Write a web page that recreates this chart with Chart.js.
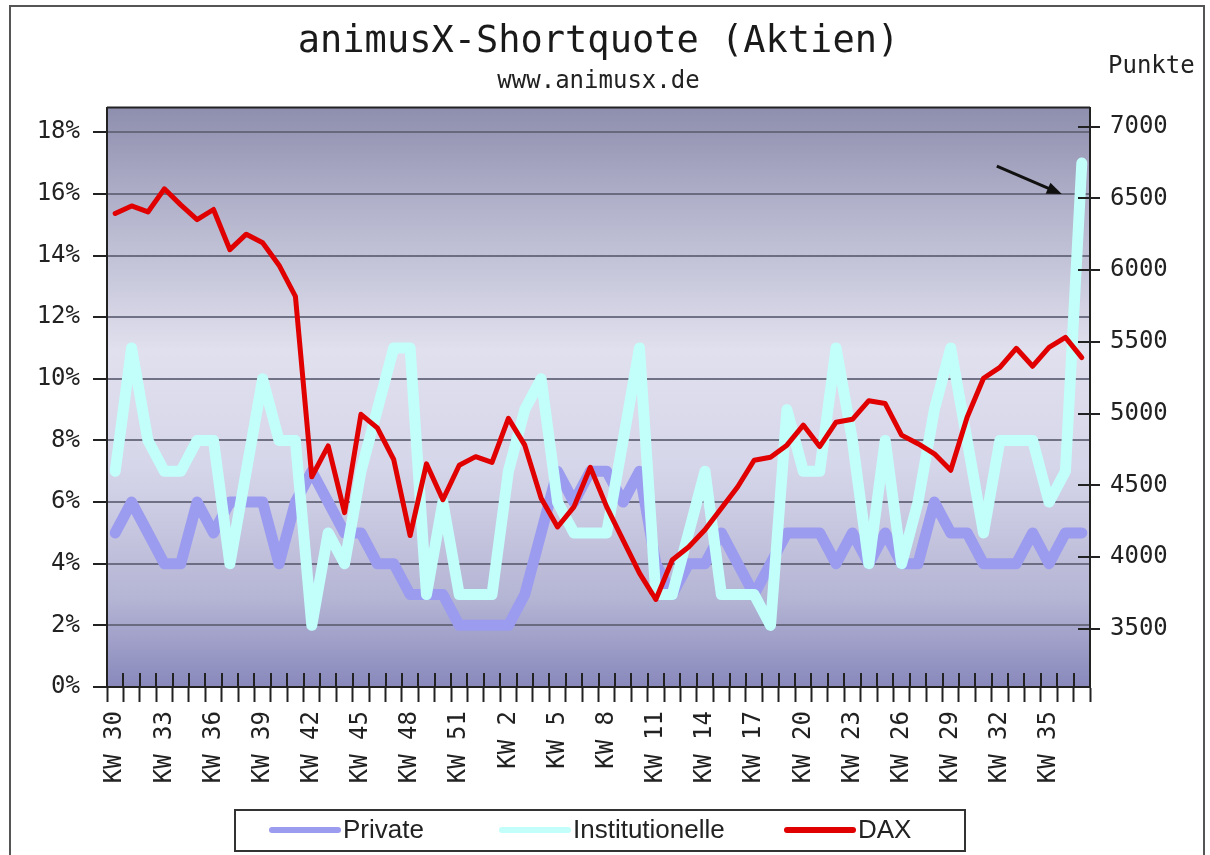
<!DOCTYPE html>
<html>
<head>
<meta charset="utf-8">
<script src="https://cdn.jsdelivr.net/npm/chart.js@4.4.1/dist/chart.umd.min.js"></script>
<style>
  html, body { margin: 0; padding: 0; background: #fff; }
  canvas { display: block; }
</style>
</head>
<body>
<canvas id="chart" width="1210" height="855"></canvas>
<script>
const weeks = [
  'KW 30','KW 31','KW 32','KW 33','KW 34','KW 35','KW 36','KW 37','KW 38','KW 39',
  'KW 40','KW 41','KW 42','KW 43','KW 44','KW 45','KW 46','KW 47','KW 48','KW 49',
  'KW 50','KW 51','KW 52','KW 1','KW 2','KW 3','KW 4','KW 5','KW 6','KW 7',
  'KW 8','KW 9','KW 10','KW 11','KW 12','KW 13','KW 14','KW 15','KW 16','KW 17',
  'KW 18','KW 19','KW 20','KW 21','KW 22','KW 23','KW 24','KW 25','KW 26','KW 27',
  'KW 28','KW 29','KW 30','KW 31','KW 32','KW 33','KW 34','KW 35','KW 36','KW 37'
];
const privat = [
  5, 6, 5, 4, 4, 6, 5, 6, 6, 6,
  4, 6, 7, 6, 5, 5, 4, 4, 3, 3,
  3, 2, 2, 2, 2, 3, 5, 7, 6, 7,
  7, 6, 7, 4, 3, 4, 4, 5, 4, 3,
  4, 5, 5, 5, 4, 5, 4, 5, 4, 4,
  6, 5, 5, 4, 4, 4, 5, 4, 5, 5
];
const institutionelle = [
  7, 11, 8, 7, 7, 8, 8, 4, 7, 10,
  8, 8, 2, 5, 4, 7, 9, 11, 11, 3,
  6, 3, 3, 3, 7, 9, 10, 6, 5, 5,
  5, 8, 11, 3, 3, 5, 7, 3, 3, 3,
  2, 9, 7, 7, 11, 8, 4, 8, 4, 6,
  9, 11, 8, 5, 8, 8, 8, 6, 7, 17
];
const dax = [
  6394, 6447, 6405, 6566, 6454, 6351, 6422, 6142, 6250, 6190,
  6034, 5817, 4560, 4775, 4310, 4995, 4900, 4680, 4150, 4650,
  4400, 4640, 4700, 4660, 4967, 4780, 4410, 4210, 4350, 4626,
  4350, 4118, 3888, 3705, 3980, 4070, 4190, 4340, 4490, 4675,
  4696, 4780, 4920, 4770, 4940, 4960, 5090, 5070, 4850, 4790,
  4720, 4605, 4974, 5246, 5322, 5455, 5330, 5462, 5531, 5390
];
const pctTicks = [0, 2, 4, 6, 8, 10, 12, 14, 16, 18];
const daxTicks = [3500, 4000, 4500, 5000, 5500, 6000, 6500, 7000];

const MONO = 'DejaVu Sans Mono';
const INK = '#222';

// background gradient, frame, cross ticks, arrow, "Punkte" and the boxed legend
const decor = {
  id: 'decor',
  beforeDraw(chart) {
    const { ctx, chartArea: a } = chart;
    ctx.save();
    ctx.fillStyle = '#fff';
    ctx.fillRect(0, 0, chart.width, chart.height);
    const g = ctx.createLinearGradient(0, a.top, 0, a.bottom);
    g.addColorStop(0, '#8e8eae');
    g.addColorStop(0.15, '#aeaec8');
    g.addColorStop(0.42, '#e0e0ee');
    g.addColorStop(0.62, '#d6d6ea');
    g.addColorStop(0.85, '#b4b4d4');
    g.addColorStop(1, '#8888bc');
    ctx.fillStyle = g;
    ctx.fillRect(a.left, a.top, a.right - a.left, a.bottom - a.top);
    ctx.strokeStyle = '#555';
    ctx.lineWidth = 2;
    ctx.strokeRect(10, 6, 1194, 880);
    ctx.restore();
  },
  afterDraw(chart) {
    const { ctx, chartArea: a, scales } = chart;
    ctx.save();
    ctx.strokeStyle = '#222';
    ctx.lineWidth = 2;
    ctx.beginPath();
    ctx.moveTo(a.left, a.top);
    ctx.lineTo(a.right, a.top);
    // inner halves of the crossing tick marks
    for (let i = 0; i <= weeks.length; i++) {
      const x = Math.round(scales.x.getPixelForValue(i - 0.5));
      ctx.moveTo(x, a.bottom - 14);
      ctx.lineTo(x, a.bottom);
    }
    daxTicks.forEach(v => {
      const y = Math.round(scales.y1.getPixelForValue(v));
      ctx.moveTo(a.right - 12, y);
      ctx.lineTo(a.right, y);
    });
    ctx.moveTo(93, a.bottom);
    ctx.lineTo(a.left, a.bottom);
    ctx.stroke();

    // arrow pointing at the last Institutionelle value
    const last = institutionelle.length - 1;
    const px = scales.x.getPixelForValue(last);
    const py = scales.y.getPixelForValue(institutionelle[last]);
    const tipX = px - 20, tipY = py + 31;
    const fromX = tipX - 65, fromY = tipY - 28;
    const ang = Math.atan2(tipY - fromY, tipX - fromX);
    ctx.strokeStyle = '#111';
    ctx.fillStyle = '#111';
    ctx.lineWidth = 3;
    ctx.beginPath();
    ctx.moveTo(fromX, fromY);
    ctx.lineTo(tipX - 10 * Math.cos(ang), tipY - 10 * Math.sin(ang));
    ctx.stroke();
    ctx.beginPath();
    ctx.moveTo(tipX, tipY);
    ctx.lineTo(tipX - 15 * Math.cos(ang) + 6 * Math.sin(ang), tipY - 15 * Math.sin(ang) - 6 * Math.cos(ang));
    ctx.lineTo(tipX - 15 * Math.cos(ang) - 6 * Math.sin(ang), tipY - 15 * Math.sin(ang) + 6 * Math.cos(ang));
    ctx.closePath();
    ctx.fill();

    ctx.fillStyle = INK;
    ctx.font = `24px "${MONO}"`;
    ctx.textBaseline = 'middle';
    ctx.textAlign = 'left';
    ctx.fillText('Punkte', 1108, 67);

    // legend box
    ctx.strokeStyle = '#333';
    ctx.lineWidth = 2;
    ctx.strokeRect(235, 810, 730, 41);
    const slots = [272, 502, 787];
    ctx.font = '26px "Liberation Sans"';
    ctx.lineCap = 'round';
    chart.data.datasets.forEach((ds, i) => {
      const x = slots[i];
      ctx.strokeStyle = ds.borderColor;
      ctx.lineWidth = 6;
      ctx.beginPath();
      ctx.moveTo(x, 830);
      ctx.lineTo(x + 66, 830);
      ctx.stroke();
      ctx.fillStyle = INK;
      ctx.fillText(ds.label, x + 71, 831);
    });
    ctx.restore();
  }
};

new Chart(document.getElementById('chart'), {
  type: 'line',
  data: {
    labels: weeks,
    datasets: [
      { label: 'Private', data: privat, yAxisID: 'y', borderColor: '#9b9bef',
        borderWidth: 11, order: 3 },
      { label: 'Institutionelle', data: institutionelle, yAxisID: 'y', borderColor: '#c2fffb',
        borderWidth: 11, order: 2 },
      { label: 'DAX', data: dax, yAxisID: 'y1', borderColor: '#e00000',
        borderWidth: 5, order: 1 }
    ]
  },
  options: {
    responsive: false,
    animation: false,
    layout: { padding: 0 },
    elements: {
      point: { radius: 0, hoverRadius: 0 },
      line: { tension: 0, borderJoinStyle: 'round', borderCapStyle: 'round' }
    },
    scales: {
      x: {
        offset: true,
        grid: { offset: true, drawOnChartArea: false, drawTicks: true, tickLength: 15, tickColor: '#222', tickWidth: 2 },
        border: { color: '#222', width: 2 },
        ticks: {
          autoSkip: false, minRotation: 90, maxRotation: 90, padding: 9,
          color: INK, font: { family: MONO, size: 24 },
          callback(v, i) { return i % 3 === 0 ? this.getLabelForValue(v) : ''; }
        },
        afterFit(scale) { scale.height = 168; }
      },
      y: {
        position: 'left',
        min: 0, max: 18.8,
        afterBuildTicks(scale) { scale.ticks = pctTicks.map(v => ({ value: v })); },
        grid: { color: 'rgba(95,95,115,0.85)', lineWidth: 2, tickColor: '#222', tickLength: 14 },
        border: { color: '#222', width: 2 },
        ticks: { color: INK, font: { family: MONO, size: 24 }, padding: 13, callback: v => v + '%' },
        afterFit(scale) { scale.width = 107; }
      },
      y1: {
        position: 'right',
        min: 3095, max: 7132,
        afterBuildTicks(scale) { scale.ticks = daxTicks.map(v => ({ value: v })); },
        grid: { drawOnChartArea: false, tickColor: '#222', tickLength: 10, lineWidth: 2 },
        border: { color: '#222', width: 2 },
        ticks: { color: INK, font: { family: MONO, size: 24 }, padding: 10, callback: v => String(v) },
        afterFit(scale) { scale.width = 120; }
      }
    },
    plugins: {
      legend: { display: false },
      tooltip: { enabled: false },
      title: {
        display: true, text: 'animusX-Shortquote (Aktien)', fullSize: false,
        color: '#1a1a1a', font: { family: MONO, size: 37, weight: 'normal' },
        padding: { top: 20, bottom: 0 }
      },
      subtitle: {
        display: true, text: 'www.animusx.de', fullSize: false,
        color: '#222', font: { family: MONO, size: 24 },
        padding: { top: 3, bottom: 11.4 }
      }
    }
  },
  plugins: [decor]
});
</script>
</body>
</html>
